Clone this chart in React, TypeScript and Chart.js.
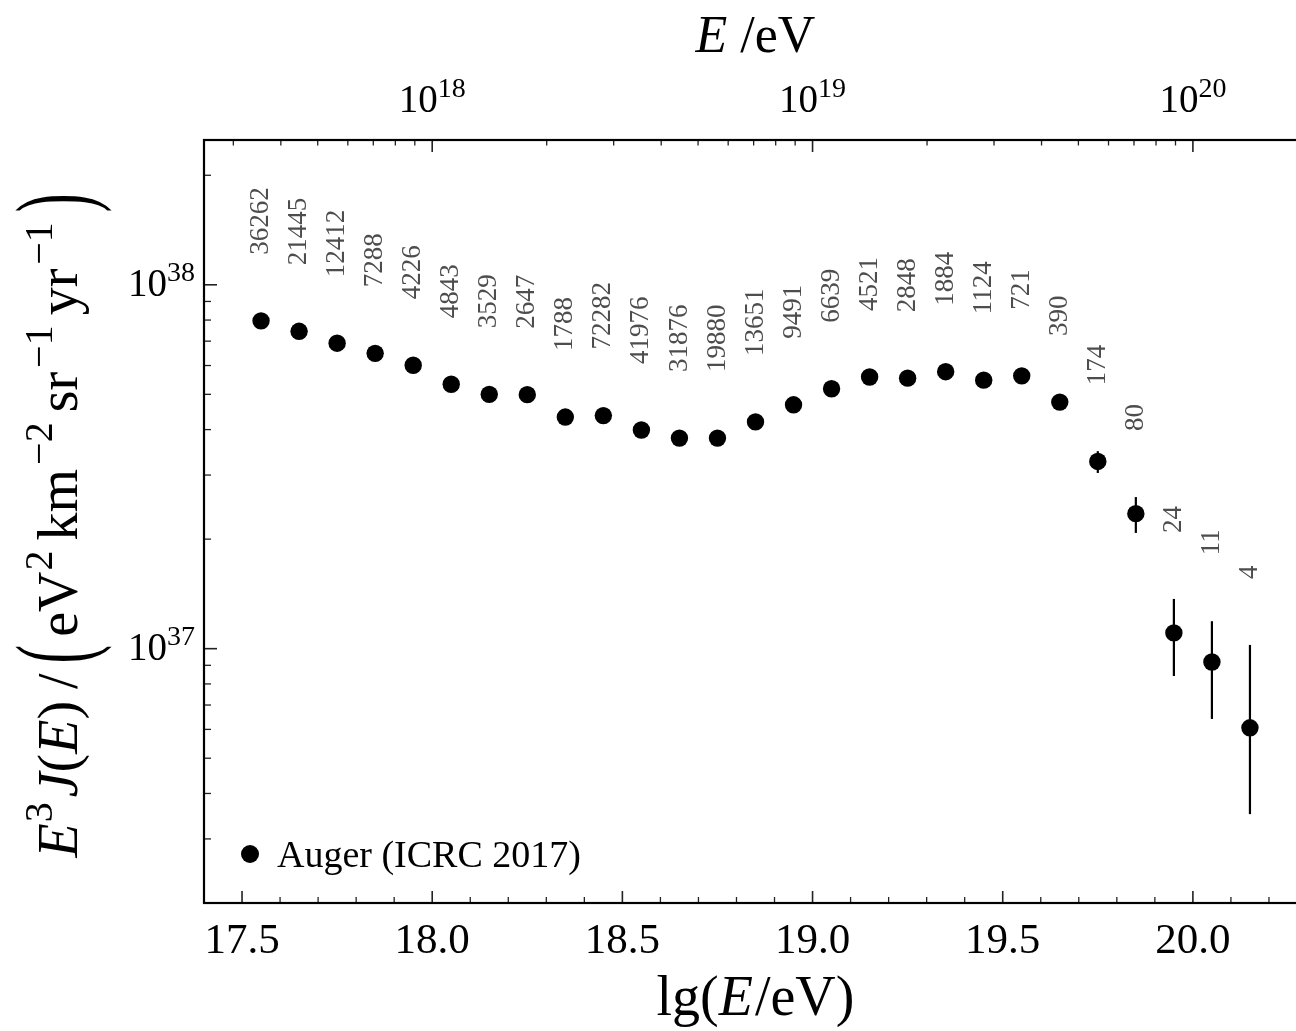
import React, { useEffect, useRef } from "react";
import { Chart, registerables } from "chart.js";

Chart.register(...registerables);

// ---- data ----
const lgE = [
  17.55, 17.65, 17.75, 17.85, 17.95, 18.05, 18.15, 18.25, 18.35, 18.45, 18.55, 18.65, 18.75, 18.85,
  18.95, 19.05, 19.15, 19.25, 19.35, 19.45, 19.55, 19.65, 19.75, 19.85, 19.95, 20.05, 20.15,
];
const flux = [
  7.96e37, 7.45e37, 6.91e37, 6.48e37, 6.01e37, 5.33e37, 5.0e37, 4.99e37, 4.33e37, 4.37e37, 3.99e37,
  3.79e37, 3.79e37, 4.2e37, 4.68e37, 5.18e37, 5.58e37, 5.54e37, 5.77e37, 5.47e37, 5.62e37, 4.76e37,
  3.27e37, 2.35e37, 1.105e37, 9.19e36, 6.06e36,
];
const fluxUp: (number | null)[] = [
  null, null, null, null, null, null, null, null, null, null, null, null, null, null, null, null,
  null, null, null, null, null, null, 3.49e37, 2.61e37, 1.37e37, 1.19e37, 1.024e37,
];
const fluxLow: (number | null)[] = [
  null, null, null, null, null, null, null, null, null, null, null, null, null, null, null, null,
  null, null, null, null, null, null, 3.04e37, 2.08e37, 8.41e36, 6.41e36, 3.51e36,
];
const eventCounts = [
  "36262", "21445", "12412", "7288", "4226", "4843", "3529", "2647", "1788", "72282", "41976",
  "31876", "19880", "13651", "9491", "6639", "4521", "2848", "1884", "1124", "721", "390", "174",
  "80", "24", "11", "4",
];
const bottomTicks = [17.5, 18.0, 18.5, 19.0, 19.5, 20.0];
const bottomTickLabels = ["17.5", "18.0", "18.5", "19.0", "19.5", "20.0"];
const topTickExponents = [18, 19, 20];
const yTickExponents = [37, 38];
const seriesName = "Auger (ICRC 2017)";

const X_MIN = 17.4;
const X_MAX = 20.3;
const Y_MIN = 2e36;
const Y_MAX = 2.5e38;

const FONT = '"Liberation Serif", "Times New Roman", serif';

type Seg = {
  t: string;
  size: number;
  italic?: boolean;
  dy?: number;
  pre?: number;
  post?: number;
  big?: number;
};

function segFont(s: Seg) {
  return `${s.italic ? "italic " : ""}${s.size}px ${FONT}`;
}
function segsWidth(ctx: CanvasRenderingContext2D, segs: Seg[]) {
  let w = 0;
  for (const s of segs) {
    ctx.font = segFont(s);
    w += (s.pre || 0) + ctx.measureText(s.t).width + (s.post || 0);
  }
  return w;
}
function drawSegs(ctx: CanvasRenderingContext2D, segs: Seg[], x: number, y: number) {
  let cx = x;
  ctx.textAlign = "left";
  ctx.textBaseline = "alphabetic";
  for (const s of segs) {
    ctx.font = segFont(s);
    cx += s.pre || 0;
    const w = ctx.measureText(s.t).width;
    if (s.big) {
      const axis = s.size * 0.25;
      ctx.save();
      ctx.translate(cx, y - axis);
      ctx.scale(1, s.big);
      ctx.fillText(s.t, 0, s.size * 0.24);
      ctx.restore();
    } else {
      ctx.fillText(s.t, cx, y - (s.dy || 0));
    }
    cx += w + (s.post || 0);
  }
}

const axesPlugin = {
  id: "physAxes",
  beforeDatasetsDraw(chart: any) {
    const { ctx, scales } = chart;
    const xs = scales.x;
    const ys = scales.y;
    ctx.save();
    ctx.strokeStyle = "#000";
    ctx.lineWidth = 2.2;
    for (let i = 0; i < lgE.length; i++) {
      const up = fluxUp[i];
      const lo = fluxLow[i];
      if (up == null || lo == null) continue;
      const px = xs.getPixelForValue(lgE[i]);
      ctx.beginPath();
      ctx.moveTo(px, ys.getPixelForValue(up));
      ctx.lineTo(px, ys.getPixelForValue(lo));
      ctx.stroke();
    }
    ctx.restore();
  },
  afterDatasetsDraw(chart: any) {
    const { ctx, scales, chartArea } = chart;
    const xs = scales.x;
    const ys = scales.y;
    const L = chartArea.left,
      R = chartArea.right,
      T = chartArea.top,
      B = chartArea.bottom;
    ctx.save();

    // event count labels
    ctx.fillStyle = "#4d4d4d";
    ctx.font = `27px ${FONT}`;
    ctx.textAlign = "left";
    ctx.textBaseline = "middle";
    for (let i = 0; i < lgE.length; i++) {
      const px = xs.getPixelForValue(lgE[i]);
      const topVal = fluxUp[i] ?? flux[i];
      const py = ys.getPixelForValue(topVal) - 66;
      ctx.save();
      ctx.translate(px, py);
      ctx.rotate(-Math.PI / 2);
      ctx.fillText(eventCounts[i], 0, 0);
      ctx.restore();
    }

    // ticks
    ctx.strokeStyle = "#222";
    const tick = (x1: number, y1: number, x2: number, y2: number, w: number) => {
      ctx.lineWidth = w;
      ctx.beginPath();
      ctx.moveTo(x1, y1);
      ctx.lineTo(x2, y2);
      ctx.stroke();
    };
    // bottom: minor every 0.1, major every 0.5
    for (let k = Math.ceil(X_MIN * 10); k <= Math.floor(X_MAX * 10); k++) {
      const v = k / 10;
      if (v <= X_MIN + 1e-9 || v >= X_MAX - 1e-9) continue;
      const px = xs.getPixelForValue(v);
      const major = k % 5 === 0;
      tick(px, B, px, B - (major ? 12 : 6), major ? 1.6 : 1.3);
    }
    // top: log ticks of E
    for (let n = 17; n <= 20; n++) {
      for (let m = 1; m <= 9; m++) {
        const v = n + Math.log10(m);
        if (v <= X_MIN || v >= X_MAX) continue;
        const px = xs.getPixelForValue(v);
        const major = m === 1;
        tick(px, T, px, T + (major ? 12 : 5.5), major ? 1.6 : 1.3);
      }
    }
    // left: log ticks
    for (let n = 36; n <= 38; n++) {
      for (let m = 1; m <= 9; m++) {
        const v = m * Math.pow(10, n);
        if (v <= Y_MIN * 0.999 || v >= Y_MAX) continue;
        const py = ys.getPixelForValue(v);
        const major = m === 1;
        tick(L, py, L + (major ? 13 : 7), py, major ? 1.6 : 1.3);
      }
    }

    // frame
    ctx.strokeStyle = "#000";
    ctx.lineWidth = 2.2;
    ctx.strokeRect(L, T, R - L, B - T);

    ctx.fillStyle = "#000";
    // bottom tick labels
    ctx.font = `43px ${FONT}`;
    ctx.textAlign = "center";
    ctx.textBaseline = "alphabetic";
    bottomTicks.forEach((v, i) => {
      ctx.fillText(bottomTickLabels[i], xs.getPixelForValue(v), 953);
    });

    // top tick labels 10^n
    topTickExponents.forEach((n) => {
      const segs: Seg[] = [
        { t: "10", size: 39 },
        { t: String(n), size: 28, dy: 15 },
      ];
      const w = segsWidth(ctx, segs);
      drawSegs(ctx, segs, xs.getPixelForValue(n) - w / 2, 112);
    });

    // left tick labels 10^n
    yTickExponents.forEach((n) => {
      const segs: Seg[] = [
        { t: "10", size: 39 },
        { t: String(n), size: 28, dy: 15 },
      ];
      const w = segsWidth(ctx, segs);
      drawSegs(ctx, segs, L - 9 - w, ys.getPixelForValue(Math.pow(10, n)) + 11);
    });

    const cxPlot = (L + R) / 2;
    // top title
    {
      const segs: Seg[] = [
        { t: "E", size: 52, italic: true },
        { t: " /eV", size: 52 },
      ];
      const w = segsWidth(ctx, segs);
      drawSegs(ctx, segs, cxPlot - w / 2, 52);
    }
    // bottom title
    {
      const segs: Seg[] = [
        { t: "lg(", size: 56 },
        { t: "E", size: 56, italic: true, post: 2 },
        { t: "/eV)", size: 56 },
      ];
      const w = segsWidth(ctx, segs);
      drawSegs(ctx, segs, cxPlot - w / 2, 1015);
    }
    // y title (rotated)
    {
      const b = 56;
      const s = 40;
      const d = 25;
      const segs: Seg[] = [
        { t: "E", size: b, italic: true },
        { t: "3", size: s, dy: d, pre: 1, post: 2 },
        { t: "J", size: b, italic: true, pre: 3 },
        { t: "(", size: b },
        { t: "E", size: b, italic: true },
        { t: ")", size: b },
        { t: "/", size: b, pre: 12, post: 10 },
        { t: "(", size: b, big: 1.9, post: 8 },
        { t: "eV", size: b },
        { t: "2", size: s, dy: d, pre: 1, post: 4 },
        { t: "km", size: b, pre: 6 },
        { t: "\u22122", size: s, dy: d, pre: 4, post: 4 },
        { t: "sr", size: b, pre: 6 },
        { t: "\u22121", size: s, dy: d, pre: 4, post: 4 },
        { t: "yr", size: b, pre: 6 },
        { t: "\u22121", size: s, dy: d, pre: 4 },
        { t: ")", size: b, big: 1.9, pre: 10 },
      ];
      const w = segsWidth(ctx, segs);
      ctx.save();
      ctx.translate(77, (T + B) / 2 + 4);
      ctx.rotate(-Math.PI / 2);
      drawSegs(ctx, segs, -w / 2, 0);
      ctx.restore();
    }

    // legend
    ctx.beginPath();
    ctx.arc(250, 854, 9, 0, Math.PI * 2);
    ctx.fill();
    ctx.font = `38px ${FONT}`;
    ctx.textAlign = "left";
    ctx.textBaseline = "alphabetic";
    ctx.fillText(seriesName, 277, 867);

    ctx.restore();
  },
};

export default function App() {
  const ref = useRef<HTMLCanvasElement>(null);
  useEffect(() => {
    const canvas = ref.current;
    if (!canvas) return;
    const chart = new Chart(canvas, {
      type: "scatter",
      data: {
        datasets: [
          {
            label: seriesName,
            data: lgE.map((x, i) => ({ x, y: flux[i] })),
            pointRadius: 8.7,
            pointHoverRadius: 8.7,
            pointBackgroundColor: "#000",
            pointBorderColor: "#000",
            pointBorderWidth: 0,
          },
        ],
      },
      options: {
        responsive: false,
        animation: false,
        events: [],
        layout: { padding: { left: 204, top: 140, right: 13, bottom: 128 } },
        scales: {
          x: { type: "linear", min: X_MIN, max: X_MAX, display: false },
          y: { type: "logarithmic", min: Y_MIN, max: Y_MAX, display: false },
        },
        plugins: { legend: { display: false }, tooltip: { enabled: false } },
      },
      plugins: [axesPlugin],
    });
    return () => chart.destroy();
  }, []);
  return (
    <div
      style={{
        position: "absolute",
        left: 0,
        top: 0,
        width: 1296,
        height: 1031,
        overflow: "hidden",
        background: "#fff",
      }}
    >
      <canvas ref={ref} width={1320} height={1031} style={{ display: "block", width: 1320, height: 1031 }} />
    </div>
  );
}
